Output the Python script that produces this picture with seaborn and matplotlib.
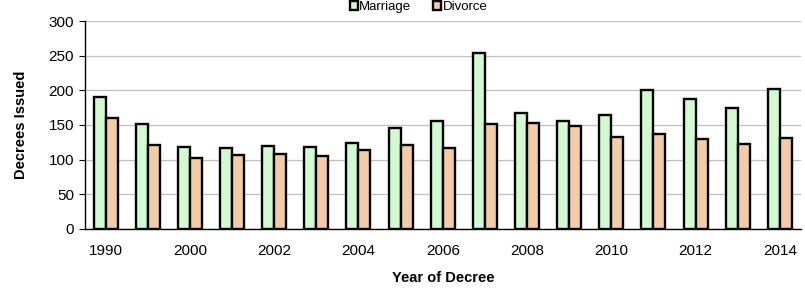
import pandas as pd
import seaborn as sns
import matplotlib.pyplot as plt
import numpy as np

years = [1990, 1999, 2000, 2001, 2002, 2003, 2004, 2005, 2006, 2007,
         2008, 2009, 2010, 2011, 2012, 2013, 2014]
marriage = [191, 151, 118, 117, 119, 118, 124, 146, 156, 254,
            167, 156, 165, 200, 187, 174, 202]
divorce = [160, 121, 103, 107, 108, 105, 114, 121, 117, 152,
           153, 148, 132, 137, 130, 122, 131]

df = pd.DataFrame({
    "year": [str(y) for y in years] * 2,
    "count": marriage + divorce,
    "type": ["Marriage"] * len(years) + ["Divorce"] * len(years),
})

sns.set_style("white")
plt.rcParams['font.family'] = ['Liberation Sans', 'DejaVu Sans']
plt.rcParams['text.color'] = 'black'
plt.rcParams['axes.labelcolor'] = 'black'
plt.rcParams['xtick.color'] = 'black'
plt.rcParams['ytick.color'] = 'black'

fig, ax = plt.subplots(figsize=(8.05, 2.88), dpi=100)
sns.barplot(data=df, x="year", y="count", hue="type",
            palette={"Marriage": "#CCFFCC", "Divorce": "#FFCC99"},
            width=0.57, edgecolor="black", linewidth=1.7, ax=ax)

ax.set_ylim(0, 300)
ax.set_yticks(range(0, 301, 50))
ax.yaxis.grid(True, color="#c0c0c0", linewidth=0.9)
ax.set_axisbelow(True)
ax.set_xlim(-0.5, len(years) - 0.5)

ax.set_xticks(range(0, len(years), 2))
ax.set_xticklabels([str(y) for y in years[::2]])
ax.set_xticks(np.arange(-0.5, len(years), 1), minor=True)
ax.tick_params(axis="x", which="major", length=0, pad=11, labelsize=11)
ax.tick_params(axis="x", which="minor", length=4, width=0.8, color="#808080")
ax.tick_params(axis="y", length=4, width=0.8, labelsize=11, left=True)

for s in ["top", "right"]:
    ax.spines[s].set_visible(False)
ax.spines["left"].set_color("black")
ax.spines["bottom"].set_color("black")
ax.spines["left"].set_linewidth(1.0)
ax.spines["bottom"].set_linewidth(1.0)

ax.set_xlabel("Year of Decree", fontweight="bold", fontsize=10.5, labelpad=9)
ax.set_ylabel("Decrees Issued", fontweight="bold", fontsize=10.5, labelpad=15)

handles, labels = ax.get_legend_handles_labels()
ax.get_legend().remove()
fig.legend(handles, labels, loc="center", bbox_to_anchor=(0.52, 0.975),
           ncol=2, frameon=False, fontsize=9.5, handlelength=0.6,
           handleheight=0.6, handletextpad=0.1, columnspacing=1.7,
           borderpad=0.1)

plt.subplots_adjust(left=0.105, right=0.995, top=0.927, bottom=0.205)
plt.savefig("out.png", dpi=100)
plt.close()
